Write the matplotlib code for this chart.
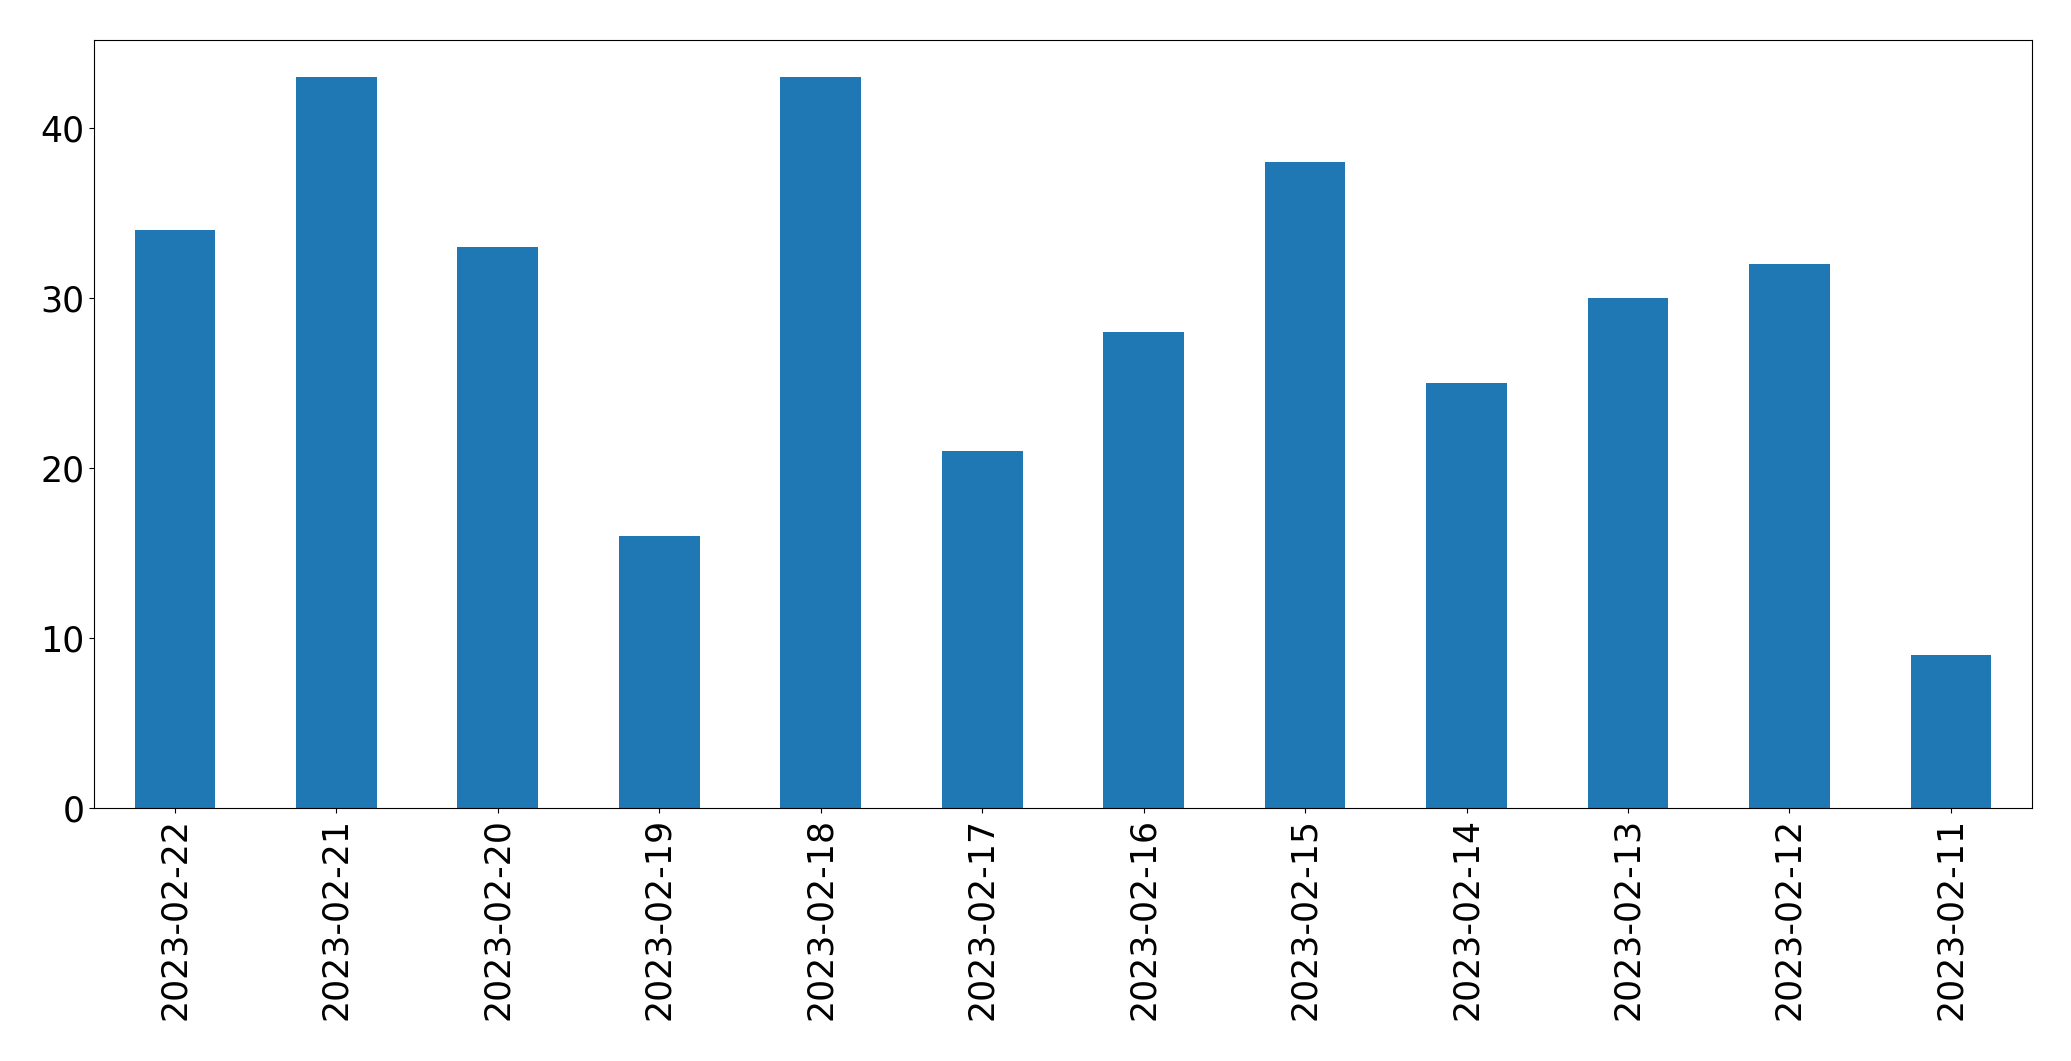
import matplotlib
matplotlib.use("Agg")
import matplotlib.pyplot as plt
import pandas as pd

dates = ["2023-02-22", "2023-02-21", "2023-02-20", "2023-02-19", "2023-02-18", "2023-02-17",
         "2023-02-16", "2023-02-15", "2023-02-14", "2023-02-13", "2023-02-12", "2023-02-11"]
counts = [34, 43, 33, 16, 43, 21, 28, 38, 25, 30, 32, 9]

s = pd.Series(counts, index=dates)

fig, ax = plt.subplots(figsize=(20.71, 10.61), dpi=100)
s.plot(kind="bar", ax=ax, color="#1f77b4", width=0.5)
ax.tick_params(axis="both", labelsize=25)
ax.set_xticklabels(dates, rotation=90)
plt.subplots_adjust(left=0.0455, right=0.981, top=0.962, bottom=0.238)
fig.savefig("out.png")
